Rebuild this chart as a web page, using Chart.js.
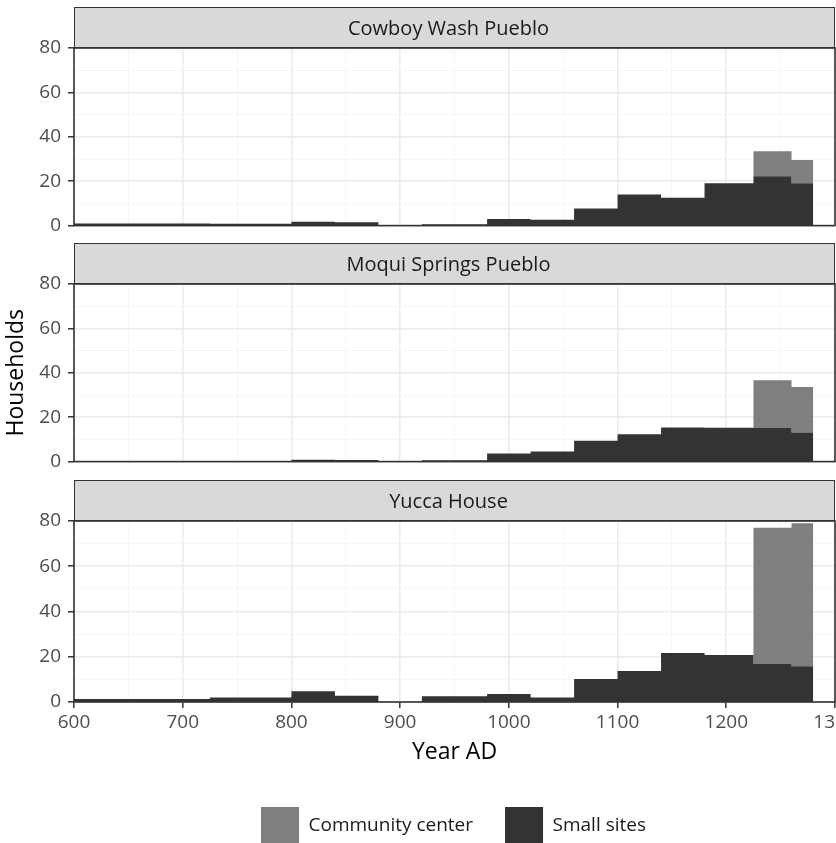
<!DOCTYPE html>
<html>
<head>
<meta charset="utf-8">
<script src="https://cdn.jsdelivr.net/npm/chart.js@4.4.0/dist/chart.umd.min.js"></script>
<style>
  html, body { margin: 0; padding: 0; background: #fff; overflow: hidden; width: 836px; height: 843px; }
  canvas { position: absolute; left: 0; }
</style>
</head>
<body>
<canvas id="c1" width="836" height="244" style="top:0px"></canvas>
<canvas id="c2" width="836" height="244" style="top:236px"></canvas>
<canvas id="c3" width="836" height="382" style="top:473px"></canvas>
<script>
// VEP periods (start years), last period ends at 1280
var periodStarts = [600, 725, 800, 840, 880, 920, 980, 1020, 1060, 1100, 1140, 1180, 1225, 1260];
var periodEnd = 1280;

var siteNames = ['Cowboy Wash Pueblo', 'Moqui Springs Pueblo', 'Yucca House'];
var seriesNames = ['Small sites', 'Community center'];

var cowboySmall = [1.0, 0.8, 1.7, 1.5, 0, 0.6, 3.0, 2.6, 7.7, 14.0, 12.6, 19.1, 22.2, 19.1];
var cowboyCenter = [0, 0, 0, 0, 0, 0, 0, 0, 0, 0, 0, 0, 11.3, 10.4];
var moquiSmall = [0.3, 0.3, 0.8, 0.7, 0, 0.6, 3.7, 4.6, 9.4, 12.3, 15.4, 15.3, 15.1, 13.1];
var moquiCenter = [0, 0, 0, 0, 0, 0, 0, 0, 0, 0, 0, 0, 21.5, 20.5];
var yuccaSmall = [1.3, 2.0, 4.7, 2.8, 0, 2.5, 3.5, 2.0, 10.2, 13.7, 21.7, 20.8, 16.8, 15.8];
var yuccaCenter = [0, 0, 0, 0, 0, 0, 0, 0, 0, 0, 0, 0, 60.2, 63.2];

var colSmall = '#333333';
var colCenter = '#7f7f7f';
var fontFam = '"Open Sans", sans-serif';

Chart.defaults.font.family = fontFam;
Chart.defaults.animation = false;

function steps(vals) {
  var pts = periodStarts.map(function(x, i) { return { x: x, y: vals[i] }; });
  pts.push({ x: periodEnd, y: vals[vals.length - 1] });
  return pts;
}

// strip + panel border like ggplot facets
var panelDecor = {
  id: 'panelDecor',
  afterDatasetsDraw: function(chart, args, opts) {
    var a = chart.chartArea, ctx = chart.ctx;
    ctx.save();
    ctx.fillStyle = '#d9d9d9';
    ctx.fillRect(a.left, a.top - 41, a.right - a.left, 41);
    ctx.strokeStyle = '#333333';
    ctx.lineWidth = 1;
    ctx.strokeRect(a.left + 0.5, a.top - 40.5, a.right - a.left - 1, 40);
    ctx.fillStyle = '#1a1a1a';
    ctx.font = '20px ' + fontFam;
    ctx.textAlign = 'center';
    ctx.textBaseline = 'middle';
    ctx.fillText(opts.title, (a.left + a.right) / 2 - 6, a.top - 19);
    ctx.lineWidth = 1.6;
    ctx.strokeRect(a.left, a.top, a.right - a.left, a.bottom - a.top);
    ctx.restore();
  }
};

var legendShift = {
  id: 'legendShift',
  afterLayout: function(chart) {
    if (chart.legend) { chart.legend.left += 36; chart.legend.right += 36; }
  }
};

function isMajor(v, step) { return v % step === 0; }

function makePanel(id, title, small, center, opt) {
  var showX = opt.showX;
  return new Chart(document.getElementById(id), {
    type: 'line',
    data: {
      datasets: [
        { label: seriesNames[0], data: steps(small), stepped: true, fill: 'origin',
          backgroundColor: colSmall, borderColor: 'rgba(0,0,0,0)', borderWidth: 0, pointRadius: 0 },
        { label: seriesNames[1], data: steps(center), stepped: true, fill: '-1',
          backgroundColor: colCenter, borderColor: 'rgba(0,0,0,0)', borderWidth: 0, pointRadius: 0 }
      ]
    },
    options: {
      responsive: false,
      layout: { padding: { top: 48, left: 0, right: 1, bottom: 0 } },
      plugins: {
        legend: {
          display: !!opt.legend,
          position: 'bottom',
          reverse: true,
          labels: { boxWidth: 38, boxHeight: 38, padding: 32, color: '#1a1a1a', font: { size: 19 } }
        },
        tooltip: { enabled: false },
        panelDecor: { title: title }
      },
      scales: {
        x: {
          type: 'linear', min: 600, max: 1300,
          afterFit: function(s) { s.height = opt.xHeight; s.paddingLeft = 0; s.paddingRight = 0; },
          ticks: { display: showX, stepSize: 50, autoSkip: false, maxRotation: 0, padding: 3,
            color: '#4d4d4d', font: { size: 19 },
            callback: function(v) { return isMajor(v, 100) ? v : ''; } },
          grid: {
            color: function(c) { return isMajor(c.tick.value, 100) ? '#ebebeb' : '#f4f4f4'; },
            lineWidth: function(c) { return isMajor(c.tick.value, 100) ? 1.6 : 0.8; },
            drawTicks: showX, tickLength: 6, tickWidth: 1.5,
            tickColor: function(c) { return isMajor(c.tick.value, 100) ? '#333333' : 'rgba(0,0,0,0)'; }
          },
          border: { display: false },
          title: { display: showX, text: 'Year AD', color: '#000', font: { size: 23 }, padding: { top: 0, bottom: 9 } }
        },
        y: {
          stacked: true, min: 0, max: 80,
          afterFit: function(s) { s.width = 74; },
          ticks: { stepSize: 10, autoSkip: false, padding: 7, color: '#4d4d4d', font: { size: 19 },
            callback: function(v) { return isMajor(v, 20) ? v : ''; } },
          grid: {
            color: function(c) { return isMajor(c.tick.value, 20) ? '#ebebeb' : '#f4f4f4'; },
            lineWidth: function(c) { return isMajor(c.tick.value, 20) ? 1.6 : 0.8; },
            tickLength: 6, tickWidth: 1.5,
            tickColor: function(c) { return isMajor(c.tick.value, 20) ? '#333333' : 'rgba(0,0,0,0)'; }
          },
          border: { display: false },
          title: { display: !!opt.yTitle, text: 'Households', color: '#000', font: { size: 23 }, padding: { top: 3, bottom: 0 } }
        }
      }
    },
    plugins: opt.legend ? [panelDecor, legendShift] : [panelDecor]
  });
}

makePanel('c1', siteNames[0], cowboySmall, cowboyCenter, { showX: false, xHeight: 14 });
makePanel('c2', siteNames[1], moquiSmall, moquiCenter, { showX: false, xHeight: 14, yTitle: true });
makePanel('c3', siteNames[2], yuccaSmall, yuccaCenter, { showX: true, xHeight: 73, legend: true });
</script>
</body>
</html>
